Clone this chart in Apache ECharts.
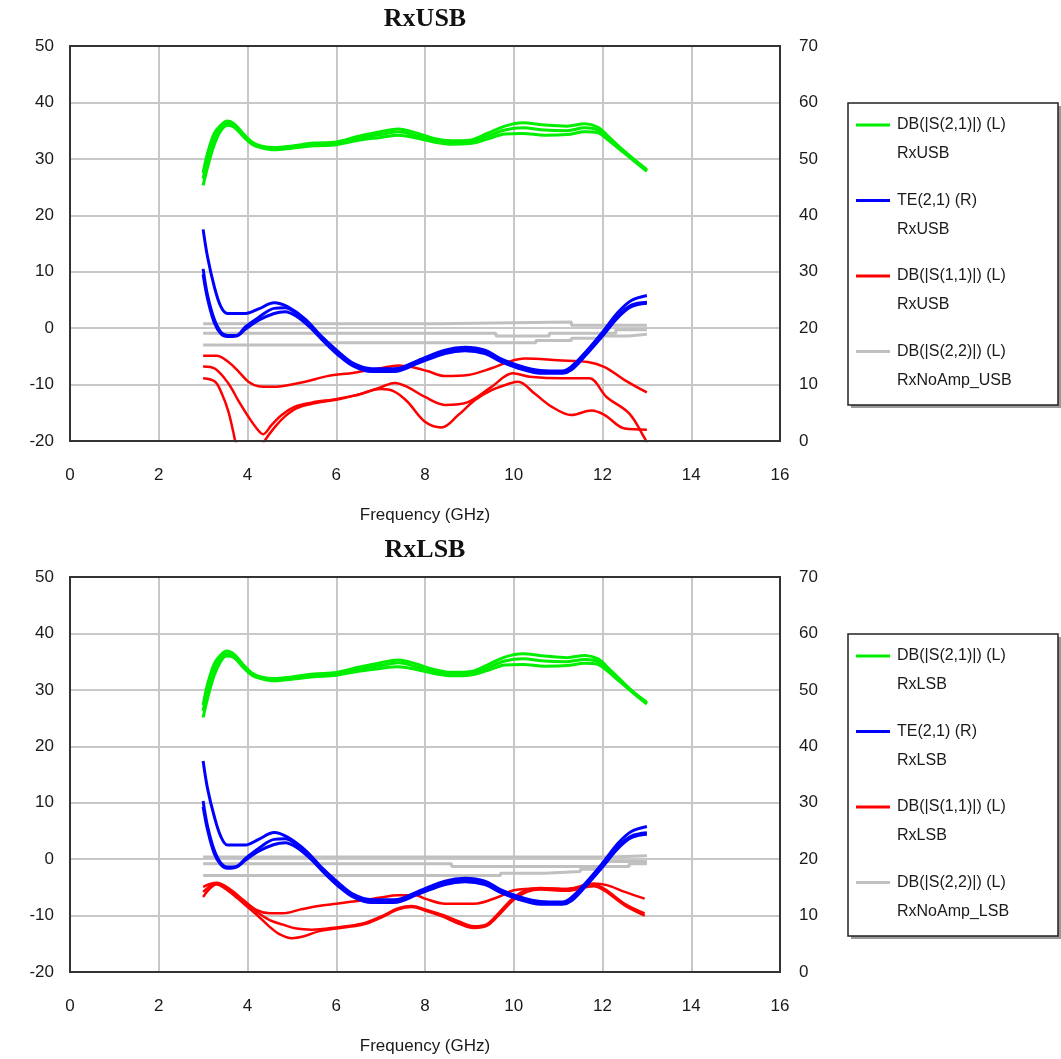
<!DOCTYPE html>
<html><head><meta charset="utf-8">
<script src="https://cdn.jsdelivr.net/npm/echarts@6/dist/echarts.min.js"></script>
<style>html,body{margin:0;padding:0;background:#fff}#c{width:1061px;height:1059px}</style>
</head><body><div id="c"></div>
<script>
// ---------- tick labels ----------
const xTicks = [0, 2, 4, 6, 8, 10, 12, 14, 16];
const leftTicks = [-20, -10, 0, 10, 20, 30, 40, 50];
const rightTicks = [0, 10, 20, 30, 40, 50, 60, 70];

// ---------- panel titles / legend texts ----------
const panelTitles = ['RxUSB', 'RxLSB'];
const legendUSB = [['DB(|S(2,1)|) (L)', 'RxUSB'], ['TE(2,1) (R)', 'RxUSB'], ['DB(|S(1,1)|) (L)', 'RxUSB'], ['DB(|S(2,2)|) (L)', 'RxNoAmp_USB']];
const legendLSB = [['DB(|S(2,1)|) (L)', 'RxLSB'], ['TE(2,1) (R)', 'RxLSB'], ['DB(|S(1,1)|) (L)', 'RxLSB'], ['DB(|S(2,2)|) (L)', 'RxNoAmp_LSB']];

// ---------- RxUSB : DB(|S(2,1)|) (left axis) ----------
const usbS21a = [[3.0,27.5],[3.1,31],[3.25,34.5],[3.4,36],[3.55,36.7],[3.7,36.2],[3.9,34.5],[4.1,33],[4.3,32.3],[4.6,32],[5.0,32.3],[5.5,32.8],[6.0,33],[6.5,34],[7.0,34.8],[7.4,35.3],[7.8,34.6],[8.2,33.6],[8.6,33.2],[9.0,33.3],[9.4,34.5],[9.8,35.8],[10.2,36.4],[10.7,36],[11.2,35.8],[11.6,36.2],[11.9,35.6],[12.1,34.2],[12.4,32],[12.7,30],[13.0,28.1]];
const usbS21b = [[3.0,26.5],[3.1,30],[3.25,33.6],[3.4,35.6],[3.55,36.3],[3.7,35.9],[3.9,34.2],[4.1,32.8],[4.3,32.1],[4.6,31.8],[5.0,32.1],[5.5,32.6],[6.0,32.8],[6.5,33.6],[7.0,34.3],[7.4,34.8],[7.8,34.1],[8.2,33.3],[8.6,32.9],[9.0,33.0],[9.4,34.0],[9.8,35.1],[10.2,35.5],[10.7,35.1],[11.2,35.0],[11.6,35.5],[11.9,35.1],[12.1,33.8],[12.4,31.8],[12.7,29.8],[13.0,27.9]];
const usbS21c = [[3.0,25.3],[3.1,28.5],[3.25,32.5],[3.4,35],[3.55,35.9],[3.7,35.6],[3.9,34],[4.1,32.6],[4.3,32],[4.6,31.6],[5.0,31.9],[5.5,32.3],[6.0,32.5],[6.5,33.3],[7.0,33.8],[7.4,34.2],[7.8,33.7],[8.2,33],[8.6,32.6],[9.0,32.7],[9.4,33.5],[9.8,34.4],[10.2,34.5],[10.7,34.2],[11.2,34.3],[11.6,34.8],[11.9,34.6],[12.1,33.5],[12.4,31.6],[12.7,29.7],[13.0,27.8]];

// ---------- RxUSB : TE(2,1) (right axis) ----------
const usbTEa = [[3.0,37.5],[3.1,32.6],[3.25,27.4],[3.4,23.8],[3.55,22.6],[3.95,22.6],[4.25,23.4],[4.6,24.5],[4.9,23.8],[5.3,21.6],[5.65,18.7],[6.05,15.8],[6.4,13.7],[6.8,12.8],[7.3,12.8],[7.85,14.3],[8.45,16.1],[8.9,16.6],[9.35,16.1],[9.7,14.6],[10.1,13.4],[10.6,12.5],[11.1,12.4],[11.3,13.2],[11.6,15.6],[12.0,19.3],[12.35,22.8],[12.65,24.9],[13.0,25.8]];
const usbTEb = [[3.0,30.5],[3.1,25.8],[3.25,21.6],[3.4,19.3],[3.55,18.7],[3.75,18.7],[3.95,20.2],[4.25,21.9],[4.6,23.5],[4.85,23.6],[5.1,22.6],[5.4,20.6],[5.7,18.1],[6.05,15.5],[6.4,13.5],[6.8,12.6],[7.3,12.5],[7.85,14.0],[8.45,15.8],[8.9,16.3],[9.35,15.8],[9.7,14.4],[10.1,13.2],[10.6,12.3],[11.1,12.2],[11.3,12.9],[11.6,15.2],[12.0,18.9],[12.35,22.2],[12.65,24.1],[13.0,24.6]];
const usbTEc = [[3.0,29.5],[3.1,25.2],[3.25,21.0],[3.4,19.0],[3.55,18.5],[3.75,18.6],[3.95,19.8],[4.25,21.4],[4.6,22.6],[4.85,22.9],[5.1,22.1],[5.4,20.2],[5.7,17.8],[6.05,15.2],[6.4,13.2],[6.8,12.3],[7.3,12.3],[7.85,13.8],[8.45,15.5],[8.9,16.0],[9.35,15.5],[9.7,14.1],[10.1,12.9],[10.6,12.0],[11.1,12.0],[11.3,12.6],[11.6,15.0],[12.0,18.6],[12.35,21.9],[12.65,23.8],[13.0,24.4]];

// ---------- RxUSB : DB(|S(1,1)|) (left axis) ----------
const usbS11a = [[3.0,-4.9],[3.3,-4.9],[3.57,-6.0],[3.8,-7.7],[4.02,-9.5],[4.25,-10.3],[4.5,-10.4],[4.77,-10.3],[5.3,-9.5],[5.8,-8.5],[6.4,-7.9],[7.0,-7.1],[7.4,-6.6],[7.7,-6.9],[8.05,-7.6],[8.45,-8.5],[8.97,-8.3],[9.5,-7.1],[9.87,-6.0],[10.25,-5.4],[11.0,-5.7],[11.67,-6.0],[12.05,-6.9],[12.5,-9.2],[13.0,-11.4]];
const usbS11b = [[3.0,-6.8],[3.27,-7.2],[3.57,-9.8],[3.79,-12.8],[4.02,-15.7],[4.24,-18.1],[4.35,-18.8],[4.54,-17.2],[4.77,-15.4],[5.07,-13.9],[5.44,-13.2],[6.04,-12.5],[6.57,-11.6],[7.02,-10.4],[7.32,-9.7],[7.6,-10.4],[8.0,-12.2],[8.45,-13.6],[8.97,-13.1],[9.5,-10.4],[9.98,-8.0],[10.36,-8.6],[11.1,-8.9],[11.7,-8.9],[12.09,-12.2],[12.6,-15.1],[12.95,-19.5],[13.0,-20.3]];
const usbS11c = [[3.0,-8.9],[3.27,-9.5],[3.42,-11.6],[3.57,-14.8],[3.68,-18.4],[3.75,-20.5],[4.0,-23],[4.2,-22.5],[4.4,-19.8],[4.62,-17.5],[4.85,-15.6],[5.1,-14.2],[5.45,-13.4],[6.0,-12.7],[6.5,-11.8],[7.0,-10.8],[7.3,-11.2],[7.6,-13.0],[8.0,-16.6],[8.37,-17.6],[8.75,-15.4],[9.12,-12.8],[9.5,-11.0],[9.95,-9.7],[10.1,-9.5],[10.47,-11.6],[10.85,-13.9],[11.3,-15.4],[11.75,-14.6],[12.05,-15.4],[12.5,-17.8],[13.0,-18.0]];

// ---------- RxUSB : DB(|S(2,2)|) RxNoAmp (left axis, stepped) ----------
const usbS22a = [[3.0,0.8],[8.3,1.1],[11.3,0.5],[13.0,0.5]];
const usbS22b = [[3.0,-0.9],[9.6,-1.4],[10.8,-0.9],[12.3,-0.3],[13.0,-0.3]];
const usbS22c = [[3.0,-3.0],[5.8,-2.6],[10.5,-2.2],[11.3,-1.8],[12.0,-1.4],[12.6,-1.1],[13.0,-1.1]];

// ---------- RxLSB : DB(|S(2,1)|) ----------
const lsbS21a = [[3.0,27.3],[3.1,31],[3.25,34.6],[3.4,36.2],[3.53,36.9],[3.7,36.3],[3.9,34.5],[4.1,33],[4.3,32.3],[4.6,32],[5.0,32.3],[5.5,32.8],[6.0,33.1],[6.5,34],[7.0,34.8],[7.4,35.3],[7.8,34.6],[8.2,33.6],[8.6,33.1],[9.0,33.2],[9.4,34.4],[9.8,35.8],[10.2,36.4],[10.7,36],[11.2,35.7],[11.6,36.1],[11.9,35.5],[12.1,34.1],[12.4,31.8],[12.7,29.6],[13.0,27.8]];
const lsbS21b = [[3.0,26.3],[3.1,30],[3.25,33.7],[3.4,35.7],[3.53,36.4],[3.7,36],[3.9,34.2],[4.1,32.8],[4.3,32.1],[4.6,31.8],[5.0,32.1],[5.5,32.6],[6.0,32.9],[6.5,33.6],[7.0,34.3],[7.4,34.8],[7.8,34.1],[8.2,33.3],[8.6,32.8],[9.0,32.9],[9.4,33.9],[9.8,35.1],[10.2,35.5],[10.7,35.1],[11.2,35.0],[11.6,35.4],[11.9,35.0],[12.1,33.7],[12.4,31.6],[12.7,29.5],[13.0,27.6]];
const lsbS21c = [[3.0,25.1],[3.1,28.5],[3.25,32.6],[3.4,35.1],[3.53,36.0],[3.7,35.7],[3.9,34],[4.1,32.6],[4.3,32],[4.6,31.6],[5.0,31.9],[5.5,32.3],[6.0,32.6],[6.5,33.3],[7.0,33.8],[7.4,34.1],[7.8,33.6],[8.2,32.9],[8.6,32.5],[9.0,32.6],[9.4,33.4],[9.8,34.4],[10.2,34.5],[10.7,34.2],[11.2,34.3],[11.6,34.7],[11.9,34.5],[12.1,33.4],[12.4,31.4],[12.7,29.4],[13.0,27.5]];

// ---------- RxLSB : TE(2,1) ----------
const lsbTEa = [[3.0,37.4],[3.1,32.5],[3.25,27.6],[3.4,24.0],[3.55,22.5],[3.95,22.5],[4.25,23.5],[4.6,24.7],[4.9,23.9],[5.3,21.6],[5.65,18.7],[6.05,15.8],[6.4,13.7],[6.8,12.8],[7.3,12.8],[7.85,14.3],[8.45,16.1],[8.9,16.6],[9.35,16.1],[9.7,14.6],[10.1,13.4],[10.6,12.5],[11.1,12.4],[11.3,13.2],[11.6,15.6],[12.0,19.3],[12.35,22.8],[12.65,24.9],[13.0,25.8]];
const lsbTEb = [[3.0,30.3],[3.1,25.8],[3.25,21.6],[3.4,19.3],[3.55,18.6],[3.75,18.7],[3.95,20.1],[4.25,21.9],[4.6,23.5],[4.85,23.6],[5.1,22.6],[5.4,20.6],[5.7,18.1],[6.05,15.5],[6.4,13.5],[6.8,12.6],[7.3,12.5],[7.85,14.0],[8.45,15.8],[8.9,16.3],[9.35,15.8],[9.7,14.4],[10.1,13.2],[10.6,12.3],[11.1,12.2],[11.3,12.9],[11.6,15.2],[12.0,18.9],[12.35,22.2],[12.65,24.1],[13.0,24.7]];
const lsbTEc = [[3.0,29.3],[3.1,25.2],[3.25,21.0],[3.4,19.0],[3.55,18.4],[3.75,18.6],[3.95,19.8],[4.25,21.4],[4.6,22.6],[4.85,22.9],[5.1,22.1],[5.4,20.2],[5.7,17.8],[6.05,15.2],[6.4,13.2],[6.8,12.3],[7.3,12.3],[7.85,13.8],[8.45,15.5],[8.9,16.0],[9.35,15.5],[9.7,14.1],[10.1,12.9],[10.6,12.0],[11.1,12.0],[11.3,12.6],[11.6,15.0],[12.0,18.6],[12.35,21.9],[12.65,23.8],[13.0,24.4]];

// ---------- RxLSB : DB(|S(1,1)|) ----------
const lsbS11a = [[3.0,-4.9],[3.3,-4.2],[3.6,-5.3],[3.9,-7.2],[4.2,-9.0],[4.5,-9.6],[4.8,-9.6],[5.2,-8.9],[5.6,-8.3],[6.0,-7.9],[6.6,-7.3],[7.0,-6.8],[7.4,-6.4],[7.8,-6.4],[8.0,-7.0],[8.45,-7.9],[9.1,-7.9],[9.65,-6.7],[10.0,-5.5],[10.6,-5.2],[11.2,-5.3],[11.8,-4.3],[12.1,-4.6],[12.5,-5.8],[12.95,-7.0]];
const lsbS11b = [[3.0,-5.8],[3.3,-4.3],[3.6,-5.5],[3.9,-7.4],[4.2,-9.3],[4.5,-10.8],[4.8,-11.6],[5.1,-12.3],[5.45,-12.5],[6.0,-12.1],[6.6,-11.4],[7.0,-10.2],[7.4,-8.7],[7.7,-8.3],[8.0,-8.9],[8.4,-9.9],[8.75,-11.0],[9.1,-11.9],[9.4,-11.5],[9.7,-9.2],[10.0,-6.8],[10.3,-5.4],[10.6,-5.1],[11.2,-5.3],[11.8,-4.6],[12.05,-5.3],[12.5,-7.9],[12.95,-9.6]];
const lsbS11c = [[3.0,-6.7],[3.3,-4.5],[3.6,-5.8],[3.9,-7.8],[4.2,-9.8],[4.5,-12.0],[4.7,-13.2],[5.0,-14.0],[5.3,-13.6],[5.6,-12.8],[6.0,-12.3],[6.6,-11.6],[7.0,-10.4],[7.4,-8.9],[7.7,-8.5],[8.0,-9.1],[8.4,-10.2],[8.75,-11.4],[9.1,-12.2],[9.4,-11.8],[9.7,-9.6],[10.0,-7.2],[10.3,-5.8],[10.6,-5.4],[11.2,-5.6],[11.8,-4.8],[12.05,-5.6],[12.5,-8.2],[12.95,-10.0]];

// ---------- RxLSB : DB(|S(2,2)|) RxNoAmp (stepped) ----------
const lsbS22a = [[3.0,0.4],[12.2,0.6],[13.0,0.6]];
const lsbS22b = [[3.0,-0.8],[8.6,-1.3],[12.0,-0.4],[13.0,-0.4]];
const lsbS22c = [[3.0,-2.9],[9.7,-2.5],[10.7,-2.2],[11.5,-1.8],[12.0,-1.3],[12.6,-0.8],[13.0,-0.8]];

// ---------- styling ----------
const COL = { s21: '#00ee00', te: '#0000ff', s11: '#ff0000', s22: '#c0c0c0' };
const FONT = '"Liberation Sans", Arial, sans-serif';
const panels = [
  { top: 46, title: panelTitles[0], legend: legendUSB,
    s21: [usbS21a, usbS21b, usbS21c], te: [usbTEa, usbTEb, usbTEc], s11: [usbS11a, usbS11b, usbS11c], s22: [usbS22a, usbS22b, usbS22c] },
  { top: 577, title: panelTitles[1], legend: legendLSB,
    s21: [lsbS21a, lsbS21b, lsbS21c], te: [lsbTEa, lsbTEb, lsbTEc], s11: [lsbS11a, lsbS11b, lsbS11c], s22: [lsbS22a, lsbS22b, lsbS22c] }
];
const GL = 70, GW = 710, GH = 395;

const grids = [], xAxes = [], yAxes = [], series = [], graphics = [];
const axisLabel = { color: '#1a1a1a', fontSize: 17, fontFamily: FONT };

panels.forEach((p, i) => {
  grids.push({ left: GL, top: p.top, width: GW, height: GH, show: false });
  xAxes.push({ type: 'value', gridIndex: i, min: xTicks[0], max: xTicks[xTicks.length - 1], interval: xTicks[1] - xTicks[0],
    axisLine: { show: false }, axisTick: { show: false },
    axisLabel: Object.assign({ margin: 26 }, axisLabel),
    splitLine: { show: true, lineStyle: { color: '#c8c8c8', width: 2 } },
    name: 'Frequency (GHz)', nameLocation: 'middle', nameGap: 66,
    nameTextStyle: { color: '#1a1a1a', fontSize: 17, fontFamily: FONT } });
  yAxes.push({ type: 'value', gridIndex: i, position: 'left', min: leftTicks[0], max: leftTicks[leftTicks.length - 1], interval: leftTicks[1] - leftTicks[0],
    axisLine: { show: false }, axisTick: { show: false },
    axisLabel: Object.assign({ margin: 16 }, axisLabel),
    splitLine: { show: true, lineStyle: { color: '#c8c8c8', width: 2 } } });
  yAxes.push({ type: 'value', gridIndex: i, position: 'right', min: rightTicks[0], max: rightTicks[rightTicks.length - 1], interval: rightTicks[1] - rightTicks[0],
    axisLine: { show: false }, axisTick: { show: false },
    axisLabel: Object.assign({ margin: 19 }, axisLabel),
    splitLine: { show: false } });

  const mk = (data, color, yIdx, width, step) => ({
    type: 'line', xAxisIndex: i, yAxisIndex: yIdx, data: data, symbol: 'none', showSymbol: false,
    smooth: step ? false : 0.35, step: step ? 'end' : false, clip: true, silent: true, animation: false,
    lineStyle: { color: color, width: width }
  });
  p.s22.forEach(d => series.push(mk(d, COL.s22, 2 * i, 3, true)));
  p.s11.forEach(d => series.push(mk(d, COL.s11, 2 * i, 2.5, false)));
  p.te.forEach(d => series.push(mk(d, COL.te, 2 * i + 1, 3, false)));
  p.s21.forEach(d => series.push(mk(d, COL.s21, 2 * i, 3, false)));

  // plot frame
  graphics.push({ type: 'rect', shape: { x: GL, y: p.top, width: GW, height: GH },
    style: { fill: 'none', stroke: '#333', lineWidth: 2 }, z: 100, silent: true });

  // title
  graphics.push({ type: 'text', x: GL + GW / 2, y: p.top - 27,
    style: { text: p.title, font: 'bold 26px "Liberation Serif", "Times New Roman", serif', fill: '#111', align: 'center', verticalAlign: 'middle' } });

  // legend box
  const lx = 848, ly = p.top + 57, lw = 210, lh = 302;
  graphics.push({ type: 'rect', shape: { x: lx + 3, y: ly + 3, width: lw, height: lh }, style: { fill: '#9a9a9a' }, z: 10 });
  graphics.push({ type: 'rect', shape: { x: lx, y: ly, width: lw, height: lh }, style: { fill: '#fff', stroke: '#222', lineWidth: 1.5 }, z: 11 });
  const cols = [COL.s21, COL.te, COL.s11, COL.s22];
  p.legend.forEach((t, k) => {
    const yy = ly + 22 + k * 75.5;
    graphics.push({ type: 'line', shape: { x1: lx + 8, y1: yy, x2: lx + 42, y2: yy }, style: { stroke: cols[k], lineWidth: 3 }, z: 12 });
    graphics.push({ type: 'text', x: lx + 49, y: yy, style: { text: t[0], font: '16px ' + FONT, fill: '#1a1a1a', verticalAlign: 'middle' }, z: 12 });
    graphics.push({ type: 'text', x: lx + 49, y: yy + 29, style: { text: t[1], font: '16px ' + FONT, fill: '#1a1a1a', verticalAlign: 'middle' }, z: 12 });
  });
});

const chart = echarts.init(document.getElementById('c'), null, { renderer: 'canvas' });
chart.setOption({ animation: false, backgroundColor: '#fff', grid: grids, xAxis: xAxes, yAxis: yAxes, series: series, graphic: graphics });
</script></body></html>
